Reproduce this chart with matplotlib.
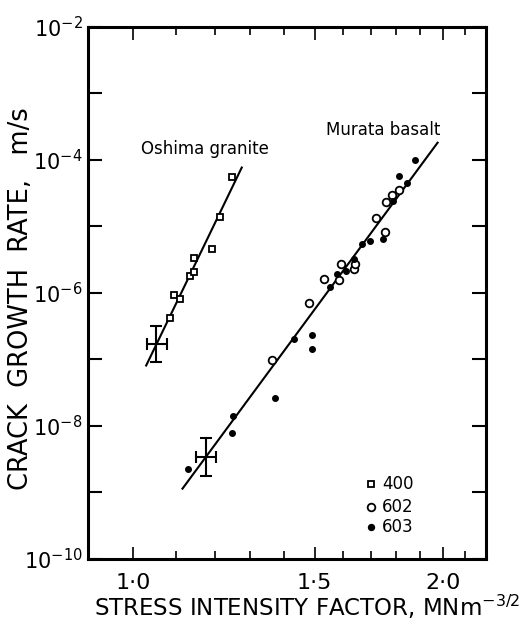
import numpy as np
import matplotlib.pyplot as plt
from matplotlib.ticker import FixedLocator, NullFormatter

# Oshima granite (400)
granite_k = [1.086, 1.097, 1.112, 1.136, 1.147, 1.147, 1.192, 1.215, 1.247]
granite_v = [4.2e-7, 9.2e-7, 8.0e-7, 1.8e-6, 2.1e-6, 3.3e-6, 4.6e-6, 1.37e-5, 5.5e-5]
granite_fit_k = [1.030, 1.275]
granite_fit_v = [8.1e-8, 7.7e-5]
granite_err = (1.054, 1.7e-7, 1.033, 1.078, 9.0e-8, 3.2e-7)

# Murata basalt, specimen 602 (open circles)
b602_k = [1.364, 1.481, 1.532, 1.585, 1.590, 1.638, 1.641, 1.722, 1.757, 1.761, 1.782, 1.810]
b602_v = [9.7e-8, 7.1e-7, 1.61e-6, 1.57e-6, 2.7e-6, 2.3e-6, 2.7e-6, 1.34e-5, 8.3e-6, 2.3e-5, 2.98e-5, 3.5e-5]

# Murata basalt, specimen 603 (filled dots)
b603_k = [1.132, 1.247, 1.250, 1.373, 1.433, 1.491, 1.492, 1.551, 1.577, 1.609, 1.638,
          1.669, 1.696, 1.748, 1.785, 1.813, 1.844, 1.875]
b603_v = [2.23e-9, 7.8e-9, 1.43e-8, 2.6e-8, 2.06e-7, 1.44e-7, 2.31e-7, 1.24e-6, 1.93e-6, 2.14e-6, 3.28e-6,
          5.4e-6, 6.05e-6, 6.4e-6, 2.4e-5, 5.8e-5, 4.5e-5, 1.01e-4]
basalt_fit_k = [1.117, 1.974]
basalt_fit_v = [1.14e-9, 1.82e-4]
basalt_err = (1.177, 3.45e-9, 1.151, 1.204, 1.79e-9, 6.5e-9)

fig = plt.figure(figsize=(5.25, 6.28), dpi=100)
ax = fig.add_axes([0.168, 0.110, 0.758, 0.847])
ax.set_xscale('log')
ax.set_yscale('log')
ax.set_xlim(0.905, 2.2)
ax.set_ylim(1e-10, 1e-2)

# fitted lines
ax.plot(granite_fit_k, granite_fit_v, color='black', lw=1.5)
ax.plot(basalt_fit_k, basalt_fit_v, color='black', lw=1.5)

# data
ax.plot(granite_k, granite_v, 's', ms=5, mfc='white', mec='black', mew=1.3, ls='none')
ax.plot(b602_k, b602_v, 'o', ms=5.5, mfc='white', mec='black', mew=1.3, ls='none')
ax.plot(b603_k, b603_v, 'o', ms=4, mfc='black', mec='black', ls='none')

# error crosses
for k, v, k0, k1, v0, v1 in [granite_err, basalt_err]:
    ax.errorbar([k], [v], xerr=[[k - k0], [k1 - k]], yerr=[[v - v0], [v1 - v]],
                fmt='none', ecolor='black', elinewidth=1.5, capsize=4, capthick=1.5)

ax.text(1.175, 1.46e-4, 'Oshima granite', fontsize=12, ha='center', va='center')
ax.text(1.748, 2.8e-4, 'Murata basalt', fontsize=12, ha='center', va='center')

# legend drawn by hand
for yy, lab, mk, fc, ms in [(1.34e-9, '400', 's', 'white', 5), (6.05e-10, '602', 'o', 'white', 5.5),
                             (3.0e-10, '603', 'o', 'black', 4)]:
    ax.plot([1.70], [yy], mk, ms=ms, mfc=fc, mec='black', mew=1.3)
    ax.text(1.745, yy, lab, fontsize=12, va='center', ha='left')

# ticks
ax.xaxis.set_major_locator(FixedLocator([1.0, 1.5, 2.0]))
ax.xaxis.set_minor_locator(FixedLocator([1.1, 1.2, 1.3, 1.4, 1.6, 1.7, 1.8, 1.9, 2.1]))
ax.set_xticklabels(['1·0', '1·5', '2·0'])
ax.xaxis.set_minor_formatter(NullFormatter())
ax.yaxis.set_major_locator(FixedLocator([1e-10, 1e-8, 1e-6, 1e-4, 1e-2]))
ax.yaxis.set_minor_locator(FixedLocator([1e-9, 1e-7, 1e-5, 1e-3]))
ax.set_yticklabels([r'$10^{-10}$', r'$10^{-8}$', r'$10^{-6}$', r'$10^{-4}$', r'$10^{-2}$'])
ax.yaxis.set_minor_formatter(NullFormatter())
ax.tick_params(axis='x', which='major', direction='in', length=9, width=1.2, top=True, labelsize=16, pad=10)
ax.tick_params(axis='x', which='minor', direction='in', length=6, width=1.2, top=True)
ax.tick_params(axis='y', which='major', direction='in', length=10, width=1.5, right=True, labelsize=15, pad=4)
ax.tick_params(axis='y', which='minor', direction='in', length=10, width=1.5, right=True)
for s in ax.spines.values():
    s.set_linewidth(2.2)

fig.text(0.040, 0.525, 'CRACK  GROWTH  RATE,   m/s', rotation=90, fontsize=18.5, ha='center', va='center')
fig.text(0.585, 0.034, r'STRESS INTENSITY FACTOR, MN$\mathregular{m^{-3/2}}$', fontsize=16.5,
         ha='center', va='center')

fig.savefig('out.png', dpi=100)
